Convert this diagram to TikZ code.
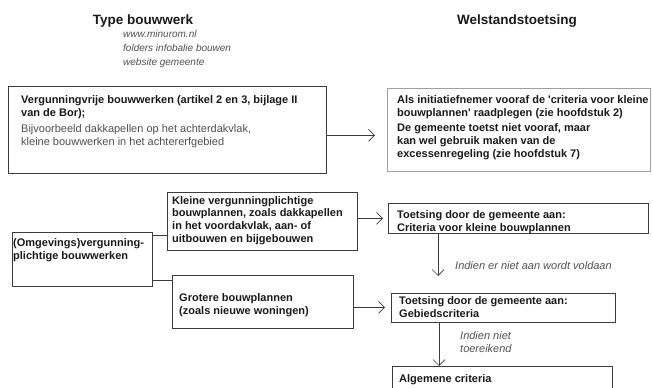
\documentclass[tikz,border=0pt]{standalone}
\usepackage{fontspec}
\setmainfont{Liberation Sans}
\usetikzlibrary{arrows.meta}
\definecolor{bord}{HTML}{3C3C3C}
\definecolor{lightbord}{HTML}{A0A0A0}
\definecolor{txtdark}{HTML}{1A1A1A}
\definecolor{txtgray}{HTML}{505050}
\begin{document}
\begin{tikzpicture}[x=1pt,y=-1pt,
  box/.style={draw=bord, line width=0.8pt, inner sep=0pt, anchor=north west},
  txt/.style={inner sep=0pt, anchor=north west, align=left, text=txtdark,
              font=\fontsize{11}{12.7}\selectfont\bfseries},
  body/.style={inner sep=0pt, anchor=north west, align=left, text=txtgray,
              font=\fontsize{11}{13}\selectfont},
  lbl/.style={inner sep=0pt, anchor=north west, align=left, text=txtgray,
              font=\fontsize{11}{13}\selectfont\itshape},
  ttl/.style={inner sep=0pt, anchor=base, text=txtdark,
              font=\fontsize{13.5}{16}\selectfont\bfseries},
  ln/.style={draw=bord, line width=0.7pt},
  arr/.style={draw=bord, line width=0.7pt, -{Straight Barb[length=6pt,width=12pt]}}
]
\useasboundingbox (0,0) rectangle (653,388);
\clip (0,0) rectangle (653,388);
\fill[white] (0,0) rectangle (653,388);

% titles
\node[ttl] (t1) at (143,24) {Type bouwwerk};
\node[ttl] (t2) at (517,24) {Welstandstoetsing};
\node[inner sep=0pt, anchor=north west, align=left, text=txtgray,
      font=\fontsize{10}{14}\selectfont\itshape] (links) at (123,30.5)
  {www.minurom.nl\\folders infobalie bouwen\\website gemeente};

% boxes
\node[box, minimum width=318pt, minimum height=87pt] (b1) at (8,86) {};
\node[box, draw=lightbord, minimum width=263pt, minimum height=83pt] (b2) at (387,88) {};
\node[box, minimum width=140pt, minimum height=54pt] (b3) at (12,232) {};
\node[box, minimum width=190pt, minimum height=58pt] (b4) at (167,192) {};
\node[box, minimum width=181pt, minimum height=53pt] (b5) at (172,275) {};
\node[box, minimum width=260pt, minimum height=30pt] (b6) at (388,203) {};
\node[box, minimum width=224pt, minimum height=29pt] (b7) at (391,293) {};
\node[box, minimum width=220pt, minimum height=40pt] (b8) at (392,366) {};

% box texts
\node[txt] (b1a) at (21,95.5) {Vergunningvrije bouwwerken (artikel 2 en 3, bijlage II\\van de Bor);};
\node[body] (b1b) at (21,124.5) {Bijvoorbeeld dakkapellen op het achterdakvlak,\\kleine bouwwerken in het achtererfgebied};
\node[txt] (b2a) at (397,95.5) {Als initiatiefnemer vooraf de \textquotesingle criteria voor kleine\\bouwplannen\textquotesingle{} raadplegen (zie hoofdstuk 2)};
\node[txt] (b2b) at (397,123.8) {De gemeente toetst niet vooraf, maar\\kan wel gebruik maken van de\\excessenregeling (zie hoofdstuk 7)};
\node[txt] (b3a) at (13,238.5) {(Omgevings)vergunning-\\plichtige bouwwerken};
\node[txt] (b4a) at (172,196) {Kleine vergunningplichtige\\bouwplannen, zoals dakkapellen\\in het voordakvlak, aan- of\\uitbouwen en bijgebouwen};
\node[txt] (b5a) at (179,293.5) {Grotere bouwplannen\\(zoals nieuwe woningen)};
\node[txt] (b6a) at (397,210.5) {Toetsing door de gemeente aan:\\Criteria voor kleine bouwplannen};
\node[txt] (b7a) at (399,296.5) {Toetsing door de gemeente aan:\\Gebiedscriteria};
\node[txt] (b8a) at (399,374.5) {Algemene criteria};

% labels
\node[lbl] (l1) at (455,261) {Indien er niet aan wordt voldaan};
\node[lbl] (l2) at (460,331) {Indien niet\\toereikend};

% connectors
\coordinate (a1) at ([yshift=-5.5pt]b1.east);
\coordinate (e1) at ([xshift=-12pt]b2.west);
\draw[arr] (a1) -- (a1 -| e1);

\coordinate (j1) at ([yshift=-3pt]b3.north east);
\draw[ln] (j1) -- (j1 -| b4.west);

\coordinate (j2) at ([yshift=6pt]b3.south east);
\draw[ln] (j2) -- (j2 -| b5.west);

\coordinate (j3) at ([yshift=3pt]b4.east);
\coordinate (e3) at ([xshift=-5pt]b6.west);
\draw[arr] (j3) -- (j3 -| e3);

\coordinate (j4) at ([xshift=50pt]b6.south west);
\coordinate (k4) at (438,276);
\draw[arr] (j4) -- (k4);

\coordinate (j5) at ([yshift=-5.5pt]b5.east);
\coordinate (e5) at ([xshift=-6pt]b7.west);
\draw[arr] (j5) -- (j5 -| e5);

\coordinate (j6) at ([xshift=48pt]b7.south west);
\draw[arr] (j6) -- (j6 |- b8.north);
\end{tikzpicture}
\end{document}
